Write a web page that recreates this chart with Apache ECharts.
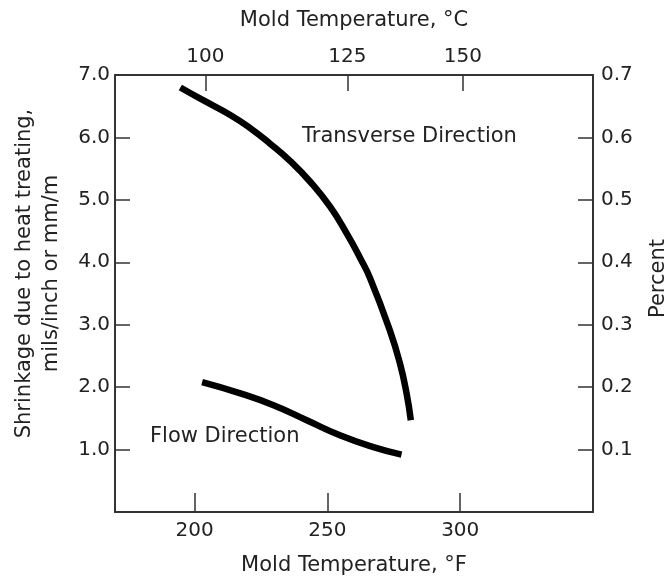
<!DOCTYPE html>
<html>
<head>
<meta charset="utf-8">
<script src="https://cdn.jsdelivr.net/npm/echarts@6/dist/echarts.min.js"></script>
<style>
  html, body { margin: 0; padding: 0; background: #fff; }
  #chart { width: 669px; height: 577px; }
</style>
</head>
<body>
<div id="chart"></div>
<script>
// shrinkage curves ([°F, mils/inch])
const transverse = [
  [194.6, 6.80], [203.0, 6.60], [213.4, 6.36], [220.9, 6.15], [228.4, 5.90],
  [236.0, 5.62], [243.5, 5.29], [251.0, 4.89], [257.3, 4.46], [262.3, 4.07],
  [266.1, 3.74], [273.5, 2.91], [277.3, 2.38], [279.8, 1.90], [281.4, 1.47]
];
const flow = [
  [202.8, 2.08], [217.2, 1.90], [229.7, 1.71], [242.2, 1.47],
  [254.7, 1.23], [267.3, 1.04], [277.9, 0.92]
];

const fTicks = [200, 250, 300];
// °C ticks on top and where they sit on the °F scale of the original
const cLabels = [100, 125, 150];
const cTicksAtF = [204, 257.5, 301];

const font = 'DejaVu Sans';
const ink = '#222';
const fs = 20;   // tick labels
const ns = 21;   // axis names and notes
const frame = { show: true, onZero: false, lineStyle: { color: '#333', width: 2 } };
const tickStyle = { color: '#333', width: 1.5 };

const chart = echarts.init(document.getElementById('chart'));
const option = {
  backgroundColor: '#fff',
  animation: false,
  textStyle: { fontFamily: font, color: ink },
  grid: { left: 115, right: 76, top: 75, bottom: 65, outerBoundsMode: 'none', containLabel: false },
  xAxis: [
    {
      type: 'value',
      min: 170, max: 350,
      position: 'bottom',
      name: 'Mold Temperature, °F',
      nameLocation: 'middle',
      nameGap: 43,
      nameTextStyle: { fontSize: ns, color: ink },
      axisLine: frame,
      splitLine: { show: false },
      axisTick: { inside: true, length: 19, customValues: fTicks, lineStyle: tickStyle },
      axisLabel: { customValues: fTicks, fontSize: fs, color: ink, margin: 9 }
    },
    {
      type: 'value',
      min: 170, max: 350,
      position: 'top',
      name: 'Mold Temperature, °C',
      nameLocation: 'middle',
      nameGap: 44,
      nameTextStyle: { fontSize: ns, color: ink },
      axisLine: frame,
      splitLine: { show: false },
      axisTick: { inside: true, length: 16, customValues: cTicksAtF, lineStyle: tickStyle },
      axisLabel: {
        customValues: cTicksAtF, fontSize: fs, color: ink, margin: 8,
        formatter: v => cLabels[cTicksAtF.indexOf(v)]
      }
    }
  ],
  yAxis: [
    {
      type: 'value',
      min: 0, max: 7, interval: 1,
      position: 'left',
      name: 'Shrinkage due to heat treating,\nmils/inch or mm/m',
      nameLocation: 'middle',
      nameRotate: 90,
      nameGap: 50,
      nameTextStyle: { fontSize: ns, color: ink, lineHeight: 27, padding: [0, 0, 0, 40] },
      axisLine: frame,
      splitLine: { show: false },
      axisTick: { inside: true, length: 15, lineStyle: tickStyle },
      axisLabel: { fontSize: fs, color: ink, margin: 5, formatter: v => v === 0 ? '' : v.toFixed(1) }
    },
    {
      type: 'value',
      min: 0, max: 0.7, interval: 0.1,
      position: 'right',
      name: 'Percent',
      nameLocation: 'middle',
      nameRotate: 90,
      nameGap: 55,
      nameTextStyle: { fontSize: ns, color: ink, padding: [0, 0, 0, 30] },
      axisLine: frame,
      splitLine: { show: false },
      axisTick: { inside: true, length: 15, lineStyle: tickStyle },
      axisLabel: { fontSize: fs, color: ink, margin: 8, formatter: v => v < 0.05 ? '' : v.toFixed(1) }
    }
  ],
  series: [
    {
      name: 'Transverse Direction',
      type: 'line',
      data: transverse,
      smooth: 0.5,
      showSymbol: false,
      lineStyle: { color: '#000', width: 6.5, cap: 'butt' }
    },
    {
      name: 'Flow Direction',
      type: 'line',
      data: flow,
      smooth: 0.5,
      showSymbol: false,
      lineStyle: { color: '#000', width: 6.5, cap: 'butt' }
    }
  ],
  graphic: [
    { type: 'text', left: 302, top: 126, style: { text: 'Transverse Direction', font: ns + 'px "DejaVu Sans"', fill: ink } },
    { type: 'text', left: 150, top: 426, style: { text: 'Flow Direction', font: ns + 'px "DejaVu Sans"', fill: ink } }
  ]
};
chart.setOption(option);
</script>
</body>
</html>
